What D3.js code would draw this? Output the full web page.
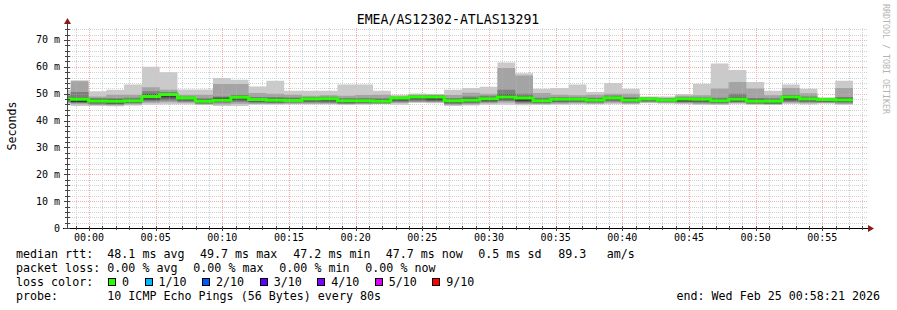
<!DOCTYPE html>
<html>
<head>
<meta charset="utf-8">
<script src="https://cdn.jsdelivr.net/npm/d3@7"></script>
<style>
  body { margin: 0; background: #fff; }
  svg text { font-family: "DejaVu Sans Mono", monospace; white-space: pre; }
</style>
</head>
<body>
<div class="chart"></div>
<script>
// one smokeping step = 80 s, 10 pings per step; times are seconds from 00:00:00
var stepStart = -162, stepLen = 80;
var viewStart = -99, viewEnd = 3501;

var median = [48.0,47.9,47.3,47.2,47.4,49.0,49.7,48.4,47.2,47.6,48.7,47.8,47.6,47.5,48.0,48.1,47.4,47.4,47.2,48.4,48.8,48.8,47.4,47.6,48.1,48.8,48.4,47.4,47.9,47.9,47.6,48.4,47.6,48.0,47.6,48.0,47.9,47.4,47.9,47.2,47.2,48.8,48.0,47.8,47.7];
// sorted pings, ping1 = fastest, ping10 = slowest
var ping10 = [51.5,55.0,50.9,51.5,53.4,60.0,58.0,51.6,51.6,55.8,55.2,52.7,54.8,51.1,51.1,51.1,53.4,53.4,51.1,49.6,50.1,49.9,51.5,52.1,52.6,61.6,57.6,51.8,52.1,53.4,50.6,54.0,51.8,49.0,49.0,49.9,53.7,61.2,58.8,54.4,51.1,53.4,51.8,48.7,54.8];
var ping9 = [49.9,54.6,49.0,49.6,49.6,52.4,51.5,49.6,49.6,53.6,53.6,50.3,50.0,49.6,49.2,49.4,49.2,49.5,49.6,49.0,49.6,49.6,49.5,50.4,50.0,59.6,56.8,50.3,49.6,49.4,49.6,50.0,50.0,48.8,48.5,49.2,49.4,51.9,54.4,51.9,49.4,52.1,50.2,48.4,52.1];
var ping8 = [49.2,50.6,48.4,48.3,48.5,50.9,50.6,49.0,48.3,49.0,49.6,48.8,48.8,48.6,48.8,48.9,48.4,48.4,48.3,48.9,49.3,49.4,48.4,49.0,49.2,51.5,50.0,48.5,48.8,48.7,48.5,49.3,48.7,48.5,48.2,48.7,48.6,48.5,50.0,48.4,48.3,49.6,49.0,48.2,48.8];
var ping7 = [48.7,48.5,47.9,47.9,48.0,49.9,50.2,48.8,47.8,48.6,49.1,48.3,48.2,48.1,48.4,48.5,47.9,47.9,47.8,48.7,49.0,49.1,47.9,48.3,48.7,49.8,49.0,48.0,48.3,48.3,48.1,48.8,48.3,48.3,47.9,48.4,48.3,48.0,48.6,47.8,47.7,49.2,48.5,48.0,48.3];
var ping6 = [48.3,48.1,47.6,47.5,47.7,49.3,49.9,48.6,47.5,48.2,48.9,48.0,47.9,47.8,48.2,48.3,47.6,47.6,47.5,48.5,48.9,48.9,47.6,47.9,48.3,49.2,48.6,47.7,48.1,48.1,47.8,48.6,47.9,48.1,47.7,48.2,48.0,47.7,48.2,47.5,47.4,49.0,48.2,47.9,48.0];
var ping5 = [47.6,47.0,47.0,46.6,47.0,48.3,48.9,48.0,46.9,47.3,48.2,47.4,47.1,47.2,47.6,47.6,46.9,47.0,46.8,47.9,48.2,47.9,47.0,47.2,47.6,48.3,47.4,47.0,47.5,47.5,47.2,48.0,47.2,47.6,47.2,47.3,47.4,47.0,47.4,46.8,46.6,48.0,47.6,47.4,47.2];
var ping4 = [47.3,46.8,46.6,46.3,46.7,47.7,48.2,47.5,46.6,47.0,47.6,47.0,46.8,46.9,47.1,47.1,46.6,46.7,46.6,47.4,47.8,47.5,46.6,46.8,47.2,47.8,47.0,46.7,47.1,47.2,46.9,47.6,46.9,47.3,47.0,47.0,47.0,46.7,47.1,46.5,46.4,47.5,47.2,47.1,46.9];
var ping3 = [46.9,46.5,46.1,46.0,46.4,47.2,47.5,47.0,46.3,46.6,47.0,46.6,46.5,46.6,46.7,46.6,46.3,46.4,46.4,46.9,47.2,47.1,46.2,46.4,46.8,47.3,46.6,46.4,46.7,46.8,46.6,47.1,46.6,47.0,46.8,46.7,46.6,46.4,46.8,46.3,46.2,47.0,46.8,46.8,46.6];
var ping2 = [46.5,46.1,45.8,45.7,46.0,46.6,46.8,46.6,46.0,46.0,46.3,46.2,46.2,46.3,46.3,46.3,46.1,46.2,46.2,46.5,46.9,46.8,45.8,46.0,46.4,46.7,46.2,46.1,46.3,46.4,46.3,46.6,46.3,46.7,46.6,46.4,46.2,46.1,46.5,46.1,46.0,46.6,46.4,46.5,46.2];
var ping1 = [45.9,45.4,45.4,45.3,45.6,45.9,46.0,46.0,45.9,45.4,45.4,45.9,45.9,46.0,46.0,46.0,45.9,45.9,46.1,45.9,46.5,46.4,45.4,45.6,45.9,45.9,45.7,45.9,45.9,46.0,46.0,46.1,46.0,46.4,46.3,46.1,45.8,45.8,46.1,45.9,45.9,46.2,46.0,46.3,45.8];

var yTicks = [0, 10, 20, 30, 40, 50, 60, 70];
var timeTickLabels = ["00:00","00:05","00:10","00:15","00:20","00:25","00:30","00:35","00:40","00:45","00:50","00:55"];
var lossLabels = ["0", "1/10", "2/10", "3/10", "4/10", "5/10", "9/10"];
var lossColors = ["#26ff00", "#00b8ff", "#0059ff", "#5e00ff", "#7e00ff", "#dd00ff", "#ff0000"];
var rttStats = [["48.1 ms avg", 107.3], ["49.7 ms max", 200], ["47.2 ms min", 293.3], ["47.7 ms now", 385.7], ["0.5 ms sd", 478.3], ["89.3", 558.3], ["am/s", 606.7]];
var lossStats = [["0.00 % avg", 107.3], ["0.00 % max", 193.3], ["0.00 % min", 279.3], ["0.00 % now", 365.3]];

var W = 897, H = 310;
var x = d3.scaleLinear().domain([viewStart, viewEnd]).range([67, 867]);
var y = d3.scaleLinear().domain([0, 74.46]).range([228, 28]);

var svg = d3.select(".chart").append("svg").attr("width", W).attr("height", H);
svg.append("rect").attr("width", W).attr("height", H).attr("fill", "#fff");

// dotted patterns (1px on, 1px off) for the grid
var defs = svg.append("defs");
function dotPattern(id, col, vertical){
    var p = defs.append("pattern").attr("id", id).attr("patternUnits", "userSpaceOnUse")
        .attr("width", vertical ? 1 : 2).attr("height", vertical ? 2 : 1);
    p.append("rect").attr("width", 1).attr("height", 1).attr("fill", col);
}
dotPattern("hmin", "#d0d0d0", false);
dotPattern("vmin", "#d0d0d0", true);
dotPattern("hmaj", "#f4aeae", false);
dotPattern("vmaj", "#f4aeae", true);

function hLines(g, vals, pat, op){
    g.selectAll(null).data(vals).enter().append("rect")
        .attr("x", 67).attr("width", 800).attr("y", function(d){ return Math.round(y(d)); }).attr("height", 1)
        .attr("fill", "url(#" + pat + ")").attr("opacity", op);
}
function vLines(g, vals, pat, op){
    g.selectAll(null).data(vals).enter().append("rect")
        .attr("x", function(d){ return Math.round(x(d)); }).attr("width", 1).attr("y", 28).attr("height", 200)
        .attr("fill", "url(#" + pat + ")").attr("opacity", op);
}
var minorY = d3.range(2, 75, 2).filter(function(v){ return v % 10 != 0; });
var minorX = d3.range(-60, 3501, 60).filter(function(t){ return t % 300 != 0; });
var majorX = timeTickLabels.map(function(d, i){ return i * 300; });

var grid = svg.append("g").attr("shape-rendering", "crispEdges");
hLines(grid, minorY, "hmin", 1);
vLines(grid, minorX, "vmin", 1);
hLines(grid, yTicks.slice(1), "hmaj", 1);
vLines(grid, majorX, "vmaj", 1);

// smoke
svg.append("clipPath").attr("id", "plotclip").append("rect").attr("x", 67).attr("y", 20).attr("width", 800).attr("height", 208);
var plot = svg.append("g").attr("clip-path", "url(#plotclip)");
var pings = [ping1, ping2, ping3, ping4, ping5, ping6, ping7, ping8, ping9, ping10];
var steps = median.map(function(m, i){ return i; });
steps.push(median.length); // closing edge of last step
var smokeCols = ["#cacaca", "#a4a4a4", "#7e7e7e", "#585858", "#323232"];
smokeCols.forEach(function(col, b){
    var lo = pings[b], hi = pings[9 - b];
    var area = d3.area().curve(d3.curveStepAfter)
        .x(function(i){ return x(stepStart + i * stepLen); })
        .y0(function(i){ return y(lo[Math.min(i, lo.length - 1)]); })
        .y1(function(i){ return y(hi[Math.min(i, hi.length - 1)]); });
    plot.append("path").datum(steps).attr("d", area).attr("fill", col);
});
var medLine = d3.line().curve(d3.curveStepAfter)
    .x(function(i){ return x(stepStart + i * stepLen); })
    .y(function(i){ return y(median[Math.min(i, median.length - 1)]); });
plot.append("path").datum(steps).attr("d", medLine).attr("fill", "none").attr("stroke", lossColors[0]).attr("stroke-width", 3);

// grid shows faintly through the smoke
var overGrid = svg.append("g").attr("shape-rendering", "crispEdges");
hLines(overGrid, yTicks.slice(1), "hmaj", 0.35);
vLines(overGrid, majorX, "vmaj", 0.35);
vLines(overGrid, minorX, "vmin", 0.25);

// axes
var ax = svg.append("g").attr("shape-rendering", "crispEdges");
ax.append("line").attr("x1", 67.5).attr("x2", 67.5).attr("y1", 228).attr("y2", 24).attr("stroke", "#444");
ax.append("line").attr("x1", 63).attr("x2", 870).attr("y1", 228.5).attr("y2", 228.5).attr("stroke", "#000");
ax.selectAll(".yt").data(d3.range(0, 75, 2)).enter().append("line")
    .attr("x1", function(d){ return d % 10 == 0 ? 64 : 65; }).attr("x2", 70)
    .attr("y1", function(d){ return Math.round(y(d)) + .5; }).attr("y2", function(d){ return Math.round(y(d)) + .5; })
    .attr("stroke", "#444");
ax.selectAll(".xt").data(d3.range(-60, 3501, 60)).enter().append("line")
    .attr("x1", function(d){ return Math.round(x(d)) + .5; }).attr("x2", function(d){ return Math.round(x(d)) + .5; })
    .attr("y1", 226).attr("y2", function(d){ return d % 300 == 0 ? 231 : 230; })
    .attr("stroke", "#444");
svg.append("path").attr("d", "M64,24L71,24L67.5,18Z").attr("fill", "#8b1a1a");
svg.append("path").attr("d", "M868,225L868,232L874,228.5Z").attr("fill", "#8b1a1a");

svg.selectAll(".ylab").data(yTicks).enter().append("text")
    .attr("x", 60).attr("y", function(d){ return y(d) + 3.5; }).attr("text-anchor", "end")
    .attr("font-size", 10).attr("fill", "#000")
    .text(function(d){ return d == 0 ? "0" : d + " m"; });
svg.selectAll(".xlab").data(timeTickLabels).enter().append("text")
    .attr("x", function(d, i){ return x(i * 300); }).attr("y", 241).attr("text-anchor", "middle")
    .attr("font-size", 10).attr("fill", "#000").text(function(d){ return d; });

svg.append("text").attr("transform", "translate(16,126) rotate(-90)").attr("text-anchor", "middle")
    .attr("font-size", 11.6).attr("fill", "#000").text("Seconds");
svg.append("text").attr("x", 448).attr("y", 24).attr("text-anchor", "middle")
    .attr("font-size", 13.2).attr("fill", "#000").text("EMEA/AS12302-ATLAS13291");
svg.append("text").attr("transform", "translate(883,4) rotate(90)")
    .attr("font-size", 8.3).attr("fill", "#b4b4b4").text("RRDTOOL / TOBI OETIKER");

// legend
var leg = svg.append("g").attr("font-size", 11.66).attr("fill", "#000");
leg.append("text").attr("x", 16).attr("y", 258).text("median rtt:");
leg.selectAll(".rs").data(rttStats).enter().append("text")
    .attr("x", function(d){ return d[1]; }).attr("y", 258).text(function(d){ return d[0]; });
leg.append("text").attr("x", 16).attr("y", 272).text("packet loss:");
leg.selectAll(".ls").data(lossStats).enter().append("text")
    .attr("x", function(d){ return d[1]; }).attr("y", 272).text(function(d){ return d[0]; });
leg.append("text").attr("x", 16).attr("y", 286).text("loss color:");
var lx = 108, cw = 7.02;
lossLabels.forEach(function(lab, i){
    leg.append("rect").attr("x", Math.round(lx) + .5).attr("y", 278.5).attr("width", 7).attr("height", 7)
        .attr("fill", lossColors[i]).attr("stroke", "#000").attr("shape-rendering", "crispEdges");
    leg.append("text").attr("x", lx + 14).attr("y", 286).text(lab);
    lx += (lab.length + 4.2) * cw;
});
leg.append("text").attr("x", 16).attr("y", 300).text("probe:");
leg.append("text").attr("x", 107.3).attr("y", 300).text("10 ICMP Echo Pings (56 Bytes) every 80s");
leg.append("text").attr("x", 880).attr("y", 300).attr("text-anchor", "end").text("end: Wed Feb 25 00:58:21 2026");
</script>
</body>
</html>
